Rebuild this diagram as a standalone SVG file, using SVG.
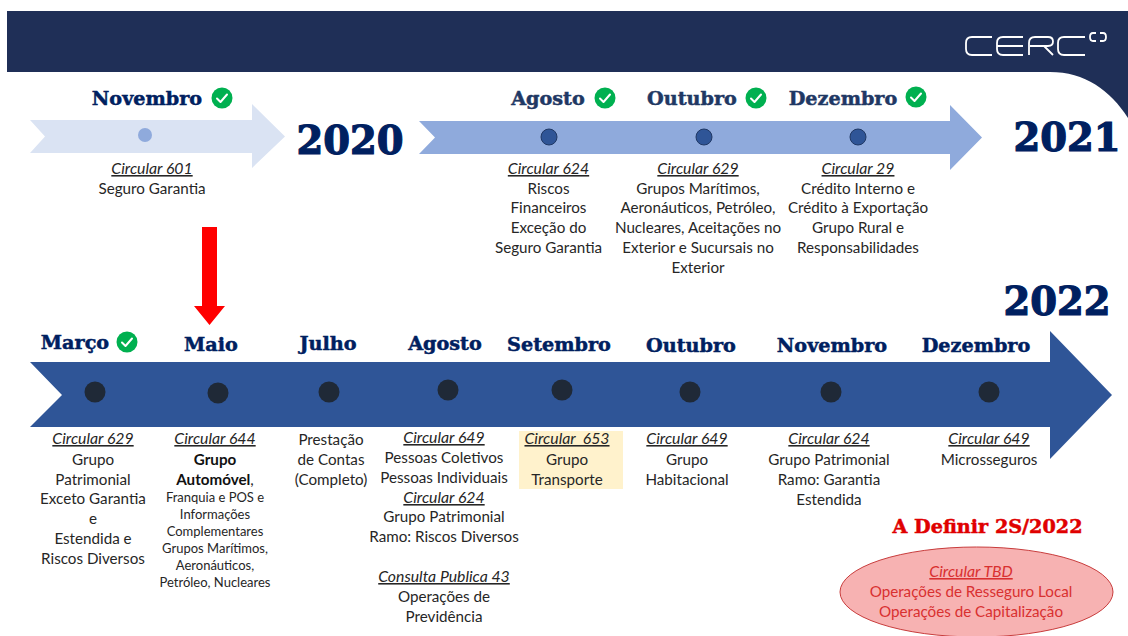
<svg xmlns="http://www.w3.org/2000/svg" width="1128" height="636" viewBox="0 0 1128 636">
<style>
.h{font-family:"DejaVu Serif",serif;font-weight:700;font-size:19.200px;fill:#002060;stroke:#002060;stroke-width:.5;text-anchor:middle}
.h2{fill:#1f3864;stroke:#1f3864}
.y{font-family:"DejaVu Serif",serif;font-weight:700;font-size:38.500px;fill:#002060;stroke:#002060;stroke-width:1.2;text-anchor:middle}
.t{font-family:Lato,"Open Sans",sans-serif;font-size:15.200px;fill:#262626;text-anchor:middle}
.s{font-size:13px}
.c{font-style:italic;text-decoration:underline;font-size:15.800px}
.b{font-weight:700;fill:#111}
.r{fill:#d93030}
.d{fill:#2f5597;stroke:#203864;stroke-width:1}
.p{fill:#1f2937}
.k{fill:#00b050}
.m{fill:none;stroke:#fff;stroke-width:2;stroke-linecap:round;stroke-linejoin:round}
</style>
<defs>
<g id="ok"><circle r="10.500" class="k"/><path d="M-5 0.500L-1.500 4L5 -3.500" class="m"/></g>
</defs>
<rect width="1128" height="636" fill="#fff"/>
<g id="header">
<path d="M7 11H1128V118C1110 90 1085 72 1050 72H7Z" fill="#1f2f57"/>
<g fill="none" stroke="#fff" stroke-width="1.800">
<path d="M992 37H972Q966 37 966 43V49Q966 55 972 55H992"/>
<path d="M1023 37H1003Q997 37 997 43V49Q997 55 1003 55H1023M997 46H1023"/>
<path d="M1029 55V43Q1029 37 1035 37H1048Q1053 37 1053 41.500Q1053 46 1048 46H1030M1044 46L1053 55"/>
<path d="M1085 37H1064Q1058 37 1058 43V49Q1058 55 1064 55H1085"/>
<path d="M1096 33H1093Q1090 33 1090 37Q1090 41 1093 41H1096M1100 33H1103Q1106 33 1106 37Q1106 41 1103 41H1100"/>
</g>
</g>
<g id="connectors">
<path id="arrow-2020" d="M30 120H252V104L285 136.500L252 168V153H30L45 136.500Z" fill="#dae3f3"/>
<path id="arrow-2021" d="M419 121H950V105L982 137.500L950 170V154H419L435 137.500Z" fill="#8faadc"/>
<path id="arrow-2022" d="M30 362H1050V331L1112 395L1050 459V427H30L62 395Z" fill="#2f5597"/>
<path id="arrow-red" d="M202 227H217V306H225L209.500 325L194 306H202Z" fill="#ff0000"/>
</g>
<g id="nov2020"><text class="h" x="147" y="105">Novembro</text><use href="#ok" x="222" y="98"/><circle cx="145" cy="135" r="7" fill="#8faadc"/>
<text class="t" x="152" y="174"><tspan class="c">Circular 601</tspan></text><text class="t" x="152" y="194">Seguro Garantia</text></g>
<text id="y2020" class="y" x="350" y="154">2020</text>
<g id="ago2021"><text class="h h2" x="548" y="105">Agosto</text><use href="#ok" x="605" y="98"/><circle class="d" cx="549" cy="137" r="8"/>
<text class="t" x="548.500" y="174"><tspan class="c">Circular 624</tspan></text><text class="t" x="548.500" y="194">Riscos</text><text class="t" x="548.500" y="213">Financeiros</text><text class="t" x="548.500" y="233">Exceção do</text><text class="t" x="548.500" y="253">Seguro Garantia</text></g>
<g id="out2021"><text class="h h2" x="692" y="105">Outubro</text><use href="#ok" x="756" y="98"/><circle class="d" cx="704" cy="137" r="8"/>
<text class="t" x="698" y="174"><tspan class="c">Circular 629</tspan></text><text class="t" x="698" y="194">Grupos Marítimos,</text><text class="t" x="698" y="213">Aeronáuticos, Petróleo,</text><text class="t" x="698" y="233">Nucleares, Aceitações no</text><text class="t" x="698" y="253">Exterior e Sucursais no</text><text class="t" x="698" y="273">Exterior</text></g>
<g id="dez2021"><text class="h h2" x="843" y="105">Dezembro</text><use href="#ok" x="916" y="97"/><circle class="d" cx="858" cy="137" r="8"/>
<text class="t" x="858" y="174"><tspan class="c">Circular 29</tspan></text><text class="t" x="858" y="194">Crédito Interno e</text><text class="t" x="858" y="213">Crédito à Exportação</text><text class="t" x="858" y="233">Grupo Rural e</text><text class="t" x="858" y="253">Responsabilidades</text></g>
<text id="y2021" class="y" x="1067" y="151">2021</text>
<text id="y2022" class="y" x="1057" y="315">2022</text>
<g id="mar2022"><text class="h" x="75" y="349">Março</text><use href="#ok" x="127" y="342"/><circle class="p" cx="95" cy="392" r="10.500"/>
<text class="t" x="93" y="444"><tspan class="c">Circular 629</tspan></text><text class="t" x="93" y="465">Grupo</text><text class="t" x="93" y="485">Patrimonial</text><text class="t" x="93" y="504">Exceto Garantia</text><text class="t" x="93" y="524">e</text><text class="t" x="93" y="544">Estendida e</text><text class="t" x="93" y="564">Riscos Diversos</text></g>
<g id="mai2022"><text class="h" x="211" y="351">Maio</text><circle class="p" cx="218" cy="393" r="10.500"/>
<text class="t" x="215" y="444"><tspan class="c">Circular 644</tspan></text><text class="t b" x="215" y="465">Grupo</text><text class="t" x="215" y="485"><tspan class="b">Automóvel</tspan>,</text><text class="t s" x="215" y="502">Franquia e POS e</text><text class="t s" x="215" y="519">Informações</text><text class="t s" x="215" y="536">Complementares</text><text class="t s" x="215" y="553">Grupos Marítimos,</text><text class="t s" x="215" y="570">Aeronáuticos,</text><text class="t s" x="215" y="587">Petróleo, Nucleares</text></g>
<g id="jul2022"><text class="h" x="328" y="350">Julho</text><circle class="p" cx="329" cy="392" r="10.500"/>
<text class="t" x="331" y="445">Prestação</text><text class="t" x="331" y="465">de Contas</text><text class="t" x="331" y="485">(Completo)</text></g>
<g id="ago2022"><text class="h" x="445" y="350">Agosto</text><circle class="p" cx="448" cy="390" r="10.500"/>
<text class="t" x="444" y="443"><tspan class="c">Circular 649</tspan></text><text class="t" x="444" y="463">Pessoas Coletivos</text><text class="t" x="444" y="483">Pessoas Individuais</text><text class="t" x="444" y="503"><tspan class="c">Circular 624</tspan></text><text class="t" x="444" y="522">Grupo Patrimonial</text><text class="t" x="444" y="542">Ramo: Riscos Diversos</text><text class="t" x="444" y="582"><tspan class="c">Consulta Publica 43</tspan></text><text class="t" x="444" y="602">Operações de</text><text class="t" x="444" y="622">Previdência</text></g>
<g id="set2022"><text class="h" x="559" y="351">Setembro</text><circle class="p" cx="562" cy="390" r="10.500"/>
<rect x="519" y="431" width="104" height="58" fill="#fff2cc"/>
<text class="t" x="567" y="444" xml:space="preserve"><tspan class="c">Circular  653</tspan></text><text class="t" x="567" y="465">Grupo</text><text class="t" x="567" y="485">Transporte</text></g>
<g id="out2022"><text class="h" x="691" y="352">Outubro</text><circle class="p" cx="690" cy="392" r="10.500"/>
<text class="t" x="687" y="444"><tspan class="c">Circular 649</tspan></text><text class="t" x="687" y="465">Grupo</text><text class="t" x="687" y="485">Habitacional</text></g>
<g id="nov2022"><text class="h" x="832" y="352">Novembro</text><circle class="p" cx="831" cy="392" r="10.500"/>
<text class="t" x="829" y="444"><tspan class="c">Circular 624</tspan></text><text class="t" x="829" y="465">Grupo Patrimonial</text><text class="t" x="829" y="485">Ramo: Garantia</text><text class="t" x="829" y="505">Estendida</text></g>
<g id="dez2022"><text class="h" x="976" y="352">Dezembro</text><circle class="p" cx="989" cy="392" r="10.500"/>
<text class="t" x="989" y="444"><tspan class="c">Circular 649</tspan></text><text class="t" x="989" y="465">Microsseguros</text></g>
<g id="tbd"><text class="h" x="987.500" y="533" style="fill:#e00000;stroke:#e00000">A Definir 2S/2022</text>
<ellipse cx="976.500" cy="592" rx="136.500" ry="45" fill="#f7b2b2" stroke="#c83c3c" stroke-width="1"/>
<text class="t r" x="971" y="577"><tspan class="c">Circular TBD</tspan></text><text class="t r" x="971" y="597">Operações de Resseguro Local</text><text class="t r" x="971" y="617">Operações de Capitalização</text></g>
</svg>
